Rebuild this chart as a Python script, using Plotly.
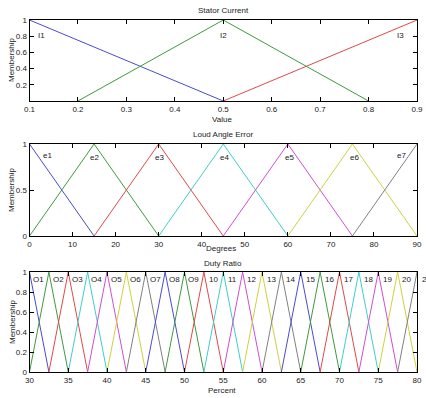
import plotly.graph_objects as go

W, H = 426, 398
FONT = "Liberation Sans Narrow, Liberation Sans, Arial, sans-serif"

# colour cycle (MATLAB-like, as rendered)
colors = ["#4a4ad0", "#3f9a3f", "#e04848", "#40cccc", "#cc50cc", "#d0d040", "#808080"]

# ---- Panel 1: Stator Current ----
p1_title = "Stator Current"
p1_xlabel = "Value"
p1_names = ["I1", "I2", "I3"]
p1_x = [[0.1, 0.5], [0.2, 0.5, 0.8], [0.5, 0.9]]
p1_y = [[1, 0], [0, 1, 0], [0, 1]]
p1_label_x = [0.124, 0.501, 0.865]
p1_label_y = [0.81, 0.81, 0.81]
p1_xticks = [0.1, 0.2, 0.3, 0.4, 0.5, 0.6, 0.7, 0.8, 0.9]
p1_yticks = [0.2, 0.4, 0.6, 0.8, 1]
p1_yticktext = ["0.2", "0.4", "0.6", "0.8", "1"]

# ---- Panel 2: Load Angle Error ----
p2_title = "Loud Angle Error"
p2_xlabel = "Degrees"
p2_names = ["e1", "e2", "e3", "e4", "e5", "e6", "e7"]
p2_peaks = [0, 15, 30, 45, 60, 75, 90]
p2_halfwidth = 15
p2_label_x = [4.1, 15, 30.1, 45.2, 60.3, 75.4, 86.5]
p2_label_y = [0.88, 0.85, 0.85, 0.85, 0.85, 0.85, 0.88]
p2_xticks = [0, 10, 20, 30, 40, 50, 60, 70, 80, 90]
p2_yticks = [0, 0.5, 1]
p2_yticktext = ["0", "0.5", "1"]

# ---- Panel 3: Duty Ratio ----
p3_title = "Duty Ratio"
p3_xlabel = "Percent"
p3_names = ["O1", "O2", "O3", "O4", "O5", "O6", "O7", "O8", "O9", "10", "11",
            "12", "13", "14", "15", "16", "17", "18", "19", "20", "21"]
p3_peaks = [30, 32.5, 35, 37.5, 40, 42.5, 45, 47.5, 50, 52.5, 55, 57.5, 60,
            62.5, 65, 67.5, 70, 72.5, 75, 77.5, 80]
p3_halfwidth = 2.5
p3_label_offset = 1.2
p3_label_y = 0.93
p3_xticks = [30, 35, 40, 45, 50, 55, 60, 65, 70, 75, 80]
p3_yticks = [0, 0.2, 0.4, 0.6, 0.8, 1]
p3_yticktext = ["0", "0.2", "0.4", "0.6", "0.8", "1"]

fig = go.Figure()

def tri(peak, hw, lo, hi):
    xs, ys = [], []
    a, c = peak - hw, peak + hw
    if a >= lo:
        xs.append(a); ys.append(0)
    xs.append(peak); ys.append(1)
    if c <= hi:
        xs.append(c); ys.append(0)
    return xs, ys

for i, (xs, ys) in enumerate(zip(p1_x, p1_y)):
    fig.add_trace(go.Scatter(x=xs, y=ys, mode="lines", xaxis="x", yaxis="y",
                             line=dict(color=colors[i % 7], width=1), showlegend=False))
for i, pk in enumerate(p2_peaks):
    xs, ys = tri(pk, p2_halfwidth, 0, 90)
    fig.add_trace(go.Scatter(x=xs, y=ys, mode="lines", xaxis="x2", yaxis="y2",
                             line=dict(color=colors[i % 7], width=1), showlegend=False))
for i, pk in enumerate(p3_peaks):
    xs, ys = tri(pk, p3_halfwidth, 30, 80)
    fig.add_trace(go.Scatter(x=xs, y=ys, mode="lines", xaxis="x3", yaxis="y3",
                             line=dict(color=colors[i % 7], width=1), showlegend=False))

def PX(sx):
    return sx / W
def PY(sy):
    return 1 - sy / H

x0, x1 = PX(29.5), PX(417)
def ydom(top, bot):
    return [PY(bot), PY(top)]

ax_common = dict(showgrid=False, zeroline=False, showline=True, linecolor="black",
                 linewidth=1, mirror="ticks", ticks="inside", ticklen=4,
                 tickcolor="black", automargin=False, ticklabeloverflow="allow",
                 tickfont=dict(family=FONT, size=8, color="#222"))

annots = []
def add_text(x, y, text, xref="paper", yref="paper", size=8, angle=0, xanchor="center"):
    annots.append(dict(x=x, y=y, xref=xref, yref=yref, text=text, showarrow=False,
                       font=dict(family=FONT, size=size, color="#222"),
                       textangle=angle, xanchor=xanchor, yanchor="middle"))

for xs_, ys_, nm in zip(p1_label_x, p1_label_y, p1_names):
    add_text(xs_, ys_, nm, "x", "y")
for xs_, ys_, nm in zip(p2_label_x, p2_label_y, p2_names):
    add_text(xs_, ys_, nm, "x2", "y2")
# panel 3 labels in paper coordinates (last one sits beyond the axis range)
p3_dom = ydom(272, 372)
for pk, nm in zip(p3_peaks, p3_names):
    px = x0 + (pk + p3_label_offset - 30) / 50 * (x1 - x0)
    py = p3_dom[0] + p3_label_y * (p3_dom[1] - p3_dom[0])
    add_text(px, py, nm)

for (sx, sy, t) in [(223, 10, p1_title), (222, 119, p1_xlabel),
                    (223, 134, p2_title), (221, 248, p2_xlabel),
                    (223, 263, p3_title), (222, 390, p3_xlabel)]:
    add_text(PX(sx), PY(sy), t)
for sy in [60, 190, 322]:
    add_text(PX(12), PY(sy), "Membership", angle=-90)

fig.update_layout(
    width=W, height=H, margin=dict(l=0, r=0, t=0, b=0, autoexpand=False),
    paper_bgcolor="white", plot_bgcolor="white", showlegend=False,
    xaxis=dict(domain=[x0, x1], range=[0.1, 0.9], tickvals=p1_xticks, anchor="y", **ax_common),
    yaxis=dict(domain=ydom(20, 101), range=[0, 1], tickvals=p1_yticks,
               ticktext=p1_yticktext, anchor="x", **ax_common),
    xaxis2=dict(domain=[x0, x1], range=[0, 90], tickvals=p2_xticks, anchor="y2", **ax_common),
    yaxis2=dict(domain=ydom(144, 236), range=[0, 1], tickvals=p2_yticks,
                ticktext=p2_yticktext, anchor="x2", **ax_common),
    xaxis3=dict(domain=[x0, x1], range=[30, 80], tickvals=p3_xticks, anchor="y3", **ax_common),
    yaxis3=dict(domain=p3_dom, range=[0, 1], tickvals=p3_yticks,
                ticktext=p3_yticktext, anchor="x3", **ax_common),
    annotations=annots,
)

fig.write_html("out.html", config={"displayModeBar": False},
               post_script="document.body.style.margin='0';")
